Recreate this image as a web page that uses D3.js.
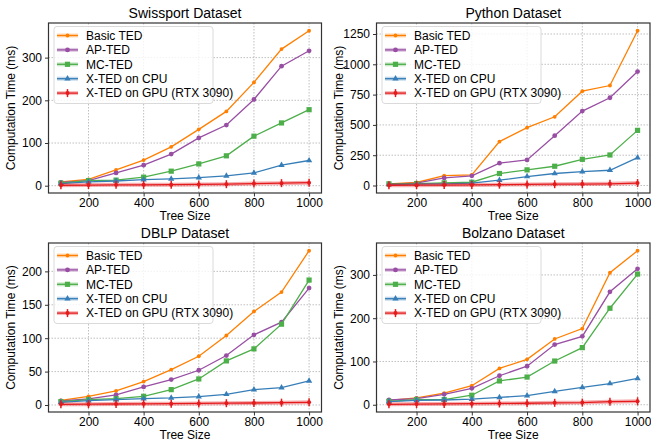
<!DOCTYPE html>
<html>
<head>
<meta charset="utf-8">
<script src="https://d3js.org/d3.v7.min.js"></script>
<style>
  body { margin: 0; background: #fff; }
  svg { font-family: "Liberation Sans", Arial, Helvetica, sans-serif; }
  .grid line { stroke: #b0b0b0; stroke-dasharray: 1.5,1.5; stroke-width: 0.8; }
  .tick text { font-size: 12px; fill: #000; }
</style>
</head>
<body>
<div id="chart"></div>
<script>
const treeSizes = [100, 200, 300, 400, 500, 600, 700, 800, 900, 1000];
const seriesNames = ["Basic TED", "AP-TED", "MC-TED", "X-TED on CPU", "X-TED on GPU (RTX 3090)"];
const seriesColors = ["#ff7f00", "#984ea3", "#4daf4a", "#377eb8", "#e41a1c"];
const seriesMarkers = ["dot", "circle", "square", "triangle", "plus"];
const xTicks = [200, 400, 600, 800, 1000];

const swissport = [
  [9, 15, 37, 60, 91, 132, 174, 242, 320, 363],
  [8, 12, 30, 48, 74, 112, 142, 202, 280, 316],
  [6, 12, 13, 20, 34, 51, 70, 116, 147, 178],
  [5, 9, 11, 14, 16, 19, 23, 30, 48, 59],
  [1, 1.5, 2, 2, 2.5, 3, 3.5, 5, 6, 7]
];
const python = [
  [14, 25, 82, 88, 362, 477, 567, 778, 825, 1277],
  [11, 19, 63, 80, 184, 211, 411, 614, 724, 940],
  [14, 16, 22, 27, 99, 129, 159, 216, 252, 455],
  [8, 11, 14, 19, 44, 74, 99, 115, 126, 230],
  [2, 3, 4, 5, 7, 9, 11, 12, 14, 20]
];
const dblp = [
  [7, 13, 21, 35, 53, 73, 104, 140, 169, 231],
  [6, 9, 15, 27, 38, 52, 74, 105, 124, 175],
  [5, 8, 9.5, 13, 23, 39, 66, 84, 121, 187],
  [4, 6.5, 8, 9.5, 10.5, 12.5, 16, 23, 26, 36],
  [1, 1.2, 1.5, 1.8, 2, 2.3, 2.7, 3, 3.5, 4]
];
const bolzano = [
  [10, 16, 27, 44, 84, 105, 152, 176, 305, 356],
  [11, 14, 24, 38, 67, 89, 139, 158, 261, 314],
  [8, 12, 12, 22, 55, 64, 101, 132, 223, 302],
  [7, 10, 11, 13, 17, 21, 31, 40, 49, 61],
  [1, 1.5, 2, 2.5, 3, 3.5, 4.5, 5, 7, 8]
];
const panelTitles = ["Swissport Dataset", "Python Dataset", "DBLP Dataset", "Bolzano Dataset"];
const panelData = [swissport, python, dblp, bolzano];
const yTickSets = [
  [0, 100, 200, 300],
  [0, 250, 500, 750, 1000, 1250],
  [0, 50, 100, 150, 200],
  [0, 100, 200, 300]
];

const width = 651, height = 442;
const boxes = [
  {left: 48.5, right: 321.5, top: 23, bottom: 193},
  {left: 376.5, right: 650, top: 23, bottom: 193},
  {left: 48.5, right: 321.5, top: 243, bottom: 412},
  {left: 376.5, right: 650, top: 243, bottom: 412}
];

const svg = d3.select("#chart").append("svg")
  .attr("width", width)
  .attr("height", height);

function drawMarker(g, type, x, y, color) {
  if (type === "dot") {
    g.append("circle").attr("cx", x).attr("cy", y).attr("r", 1.9).attr("fill", color);
  } else if (type === "circle") {
    g.append("circle").attr("cx", x).attr("cy", y).attr("r", 2.4).attr("fill", color);
  } else if (type === "square") {
    g.append("rect").attr("x", x - 2.6).attr("y", y - 2.6).attr("width", 5.2).attr("height", 5.2).attr("fill", color);
  } else if (type === "triangle") {
    g.append("path").attr("d", d3.symbol(d3.symbolTriangle, 17)()).attr("transform", `translate(${x},${y})`).attr("fill", color);
  } else {
    g.append("line").attr("x1", x).attr("x2", x).attr("y1", y - 4).attr("y2", y + 4)
      .attr("stroke", color).attr("stroke-width", 1.5);
    g.append("circle").attr("cx", x).attr("cy", y).attr("r", 2).attr("fill", color);
  }
}

function drawPanel(i) {
  const b = boxes[i];
  const series = panelData[i];
  const all = series.flat();
  const lo = d3.min(all), hi = d3.max(all), pad = (hi - lo) * 0.05;

  const x = d3.scaleLinear().domain([55, 1045]).range([b.left, b.right]);
  const y = d3.scaleLinear().domain([lo - pad, hi + pad]).range([b.bottom, b.top]);
  const g = svg.append("g");

  // grid
  g.append("g").attr("class", "grid")
    .selectAll("line").data(xTicks).enter().append("line")
    .attr("x1", d => x(d)).attr("x2", d => x(d)).attr("y1", b.top).attr("y2", b.bottom);
  g.append("g").attr("class", "grid")
    .selectAll("line").data(yTickSets[i]).enter().append("line")
    .attr("x1", b.left).attr("x2", b.right).attr("y1", d => y(d)).attr("y2", d => y(d));

  // lines
  const line = d3.line().x((d, j) => x(treeSizes[j])).y(d => y(d));
  series.forEach((vals, s) => {
    if (s === 4) {
      g.append("path").attr("d", line(vals)).attr("fill", "none")
        .attr("stroke", seriesColors[s]).attr("stroke-opacity", 0.35).attr("stroke-width", 4);
    }
    g.append("path").attr("d", line(vals)).attr("fill", "none")
      .attr("stroke", seriesColors[s]).attr("stroke-width", 1.3);
    vals.forEach((v, j) => drawMarker(g, seriesMarkers[s], x(treeSizes[j]), y(v), seriesColors[s]));
  });

  // axes
  g.append("g").attr("transform", `translate(0,${b.bottom})`)
    .call(d3.axisBottom(x).tickValues(xTicks).tickFormat(d3.format("d")).tickSize(3.5).tickPadding(2))
    .call(a => a.select(".domain").remove())
    .call(a => a.selectAll("line").attr("stroke", "#333"));
  g.append("g").attr("transform", `translate(${b.left},0)`)
    .call(d3.axisLeft(y).tickValues(yTickSets[i]).tickFormat(d3.format("d")).tickSize(3.5).tickPadding(3))
    .call(a => a.select(".domain").remove())
    .call(a => a.selectAll("line").attr("stroke", "#333"));

  g.append("rect").attr("x", b.left).attr("y", b.top)
    .attr("width", b.right - b.left).attr("height", b.bottom - b.top)
    .attr("fill", "none").attr("stroke", "#333").attr("stroke-width", 1.2);

  // title + labels
  g.append("text").attr("x", (b.left + b.right) / 2).attr("y", b.top - 5)
    .attr("text-anchor", "middle").style("font-size", "14px").text(panelTitles[i]);
  g.append("text").attr("x", (b.left + b.right) / 2).attr("y", b.bottom + 27)
    .attr("text-anchor", "middle").style("font-size", "12px").text("Tree Size");
  g.append("text")
    .attr("transform", `translate(${b.left - 34},${(b.top + b.bottom) / 2}) rotate(-90)`)
    .attr("text-anchor", "middle").style("font-size", "12px").text("Computation Time (ms)");

  // legend
  const lg = g.append("g").attr("transform", `translate(${b.left + 5.5},${b.top + 3.5})`);
  lg.append("rect").attr("width", 159).attr("height", 77).attr("rx", 3)
    .attr("fill", "#fff").attr("fill-opacity", 0.8).attr("stroke", "#d0d0d0").attr("stroke-width", 0.8);
  seriesNames.forEach((name, s) => {
    const yy = 9 + s * 14.4;
    lg.append("line").attr("x1", 3).attr("x2", 24).attr("y1", yy).attr("y2", yy)
      .attr("stroke", seriesColors[s]).attr("stroke-opacity", 0.3).attr("stroke-width", 4);
    lg.append("line").attr("x1", 3).attr("x2", 24).attr("y1", yy).attr("y2", yy)
      .attr("stroke", seriesColors[s]).attr("stroke-width", 1.3);
    drawMarker(lg, seriesMarkers[s], 13.5, yy, seriesColors[s]);
    lg.append("text").attr("x", 32).attr("y", yy + 4.2).style("font-size", "12px").text(name);
  });
}

[0, 1, 2, 3].forEach(drawPanel);
</script>
</body>
</html>
